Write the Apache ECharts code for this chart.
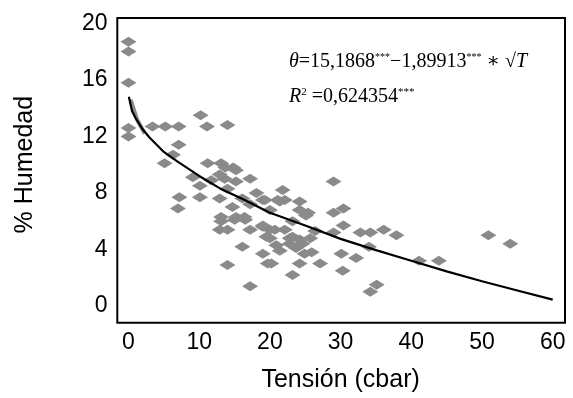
<!DOCTYPE html>
<html>
<head>
<meta charset="utf-8">
<script src="https://cdn.jsdelivr.net/npm/echarts@6/dist/echarts.min.js"></script>
<style>
html,body{margin:0;padding:0;background:#fff;}
#c{width:573px;height:398px;}
</style>
</head>
<body>
<div id="c"></div>
<script>
// ---- data ----
const tension = [0,0,0,0,0,3.4,5.2,7.1,10.2,11.1,14.0,7.1,6.3,5.1,11.2,13.1,13.7,15.2,12.9,9.1,11.7,13.6,15.2,17.2,10.1,14.0,18.1,7.2,10.1,12.9,16.1,19.0,7.0,14.7,17.2,13.1,15.2,16.4,13.1,15.0,16.5,12.9,14.0,17.2,19.0,19.5,16.1,19.0,19.7,14.0,17.2,29.0,21.8,19.3,21.1,22.1,24.2,21.4,20.0,24.2,25.4,29.0,30.4,23.2,25.1,30.4,19.0,20.0,20.7,22.1,26.4,29.0,32.8,34.2,36.1,37.9,20.0,23.2,22.8,24.2,25.7,20.9,22.8,24.6,23.7,21.4,24.9,25.9,30.1,32.2,34.0,20.2,24.2,27.1,23.2,30.3,34.2,35.1,41.1,43.9,50.9,54.0,14.8];
const humedad = [18.7,18.0,15.8,12.6,12.0,12.7,12.7,12.7,13.5,12.7,12.8,11.4,10.7,10.1,10.1,10.1,9.8,9.6,9.3,9.1,8.9,9.0,8.8,9.0,8.5,8.3,8.0,7.7,7.7,7.6,7.6,7.5,6.9,7.0,7.2,6.3,6.3,6.3,6.0,6.1,6.1,5.4,5.4,5.4,5.6,4.9,4.2,3.7,3.0,2.9,1.4,8.8,8.2,7.5,7.5,7.5,7.4,7.4,6.8,6.8,6.6,6.6,6.9,6.0,6.4,5.7,5.7,5.4,5.4,5.4,5.3,5.2,5.2,5.2,5.4,5.0,4.8,4.9,4.8,4.7,4.8,4.3,4.4,4.4,4.1,3.9,3.7,3.8,3.7,3.4,4.2,3.0,3.0,3.0,2.2,2.5,1.0,1.5,3.2,3.2,5.0,4.4,9.8];
const curveT = [0.05,0.5,1,2,3,5,7,10,13,16,20,25,30,35,40,45,50,55,60];
const curveH = [14.8,13.8,13.3,12.5,11.9,10.9,10.2,9.2,8.3,7.6,6.6,5.7,4.75,3.95,3.2,2.45,1.75,1.1,0.45];
const shadowT = [0.3,1.2,2.3];
const shadowH = [14.6,13.2,12.2];
const xTicks = [0,10,20,30,40,50,60];
const yTicks = [0,4,8,12,16,20];

const pts = tension.map((t,i)=>[t,humedad[i]]);
const curve = curveT.map((t,i)=>[t,curveH[i]]);
const shadow = shadowT.map((t,i)=>[t,shadowH[i]]);

const chart = echarts.init(document.getElementById('c'), null, {renderer:'canvas'});
const serif = '"Liberation Serif", "DejaVu Serif", serif';
const sans = '"Liberation Sans", Arial, sans-serif';
chart.setOption({
  animation:false,
  backgroundColor:'#fff',
  grid:{left:128.5,right:20.3,top:23.3,bottom:89,containLabel:false},
  xAxis:{
    type:'value',min:xTicks[0],max:xTicks[xTicks.length-1],interval:10,
    name:'Tensión (cbar)',nameLocation:'middle',nameGap:62,
    nameTextStyle:{fontFamily:sans,fontSize:25,color:'#000'},
    axisLine:{show:false},axisTick:{show:false},splitLine:{show:false},
    axisLabel:{fontFamily:sans,fontSize:23,color:'#000',margin:25}
  },
  yAxis:{
    type:'value',min:yTicks[0],max:yTicks[yTicks.length-1],interval:4,
    name:'% Humedad',nameLocation:'middle',nameGap:91,nameRotate:90,
    nameTextStyle:{fontFamily:sans,fontSize:25,color:'#000'},
    axisLine:{show:false},axisTick:{show:false},splitLine:{show:false},
    axisLabel:{fontFamily:sans,fontSize:23,color:'#000',margin:21}
  },
  series:[
    {type:'scatter',data:pts,symbol:'diamond',symbolSize:[16,10],clip:false,
     itemStyle:{color:'#8a8a8a',opacity:1},z:2},
    {type:'line',data:shadow,showSymbol:false,symbol:'none',clip:false,
     lineStyle:{color:'#8a8a8a',width:4},z:3},
    {type:'line',data:curve,showSymbol:false,symbol:'none',smooth:false,clip:false,
     lineStyle:{color:'#000',width:2.2},z:4}
  ],
  graphic:[
    {type:'rect',shape:{x:117.3,y:18,width:447.7,height:304.7},
     style:{fill:'none',stroke:'#000',lineWidth:2},z:10,silent:true},
    {type:'text',x:289,y:62,z:10,style:{
      text:'{i|θ}{n|=15,1868}{s|***}{n|−1,89913}{s|***}{n| ∗ √}{i|T}',
      verticalAlign:'middle',
      rich:{
        i:{fontFamily:serif,fontSize:20,fontStyle:'italic',color:'#000'},
        n:{fontFamily:serif,fontSize:20,color:'#000'},
        s:{fontFamily:serif,fontSize:10,color:'#000',verticalAlign:'top'}
      }}},
    {type:'text',x:289,y:97,z:10,style:{
      text:'{i|R}{s|2}{n| =0,624354}{s|***}',
      verticalAlign:'middle',
      rich:{
        i:{fontFamily:serif,fontSize:20,fontStyle:'italic',color:'#000'},
        n:{fontFamily:serif,fontSize:20,color:'#000'},
        s:{fontFamily:serif,fontSize:11,color:'#000',verticalAlign:'top'}
      }}}
  ]
});
</script>
</body>
</html>
